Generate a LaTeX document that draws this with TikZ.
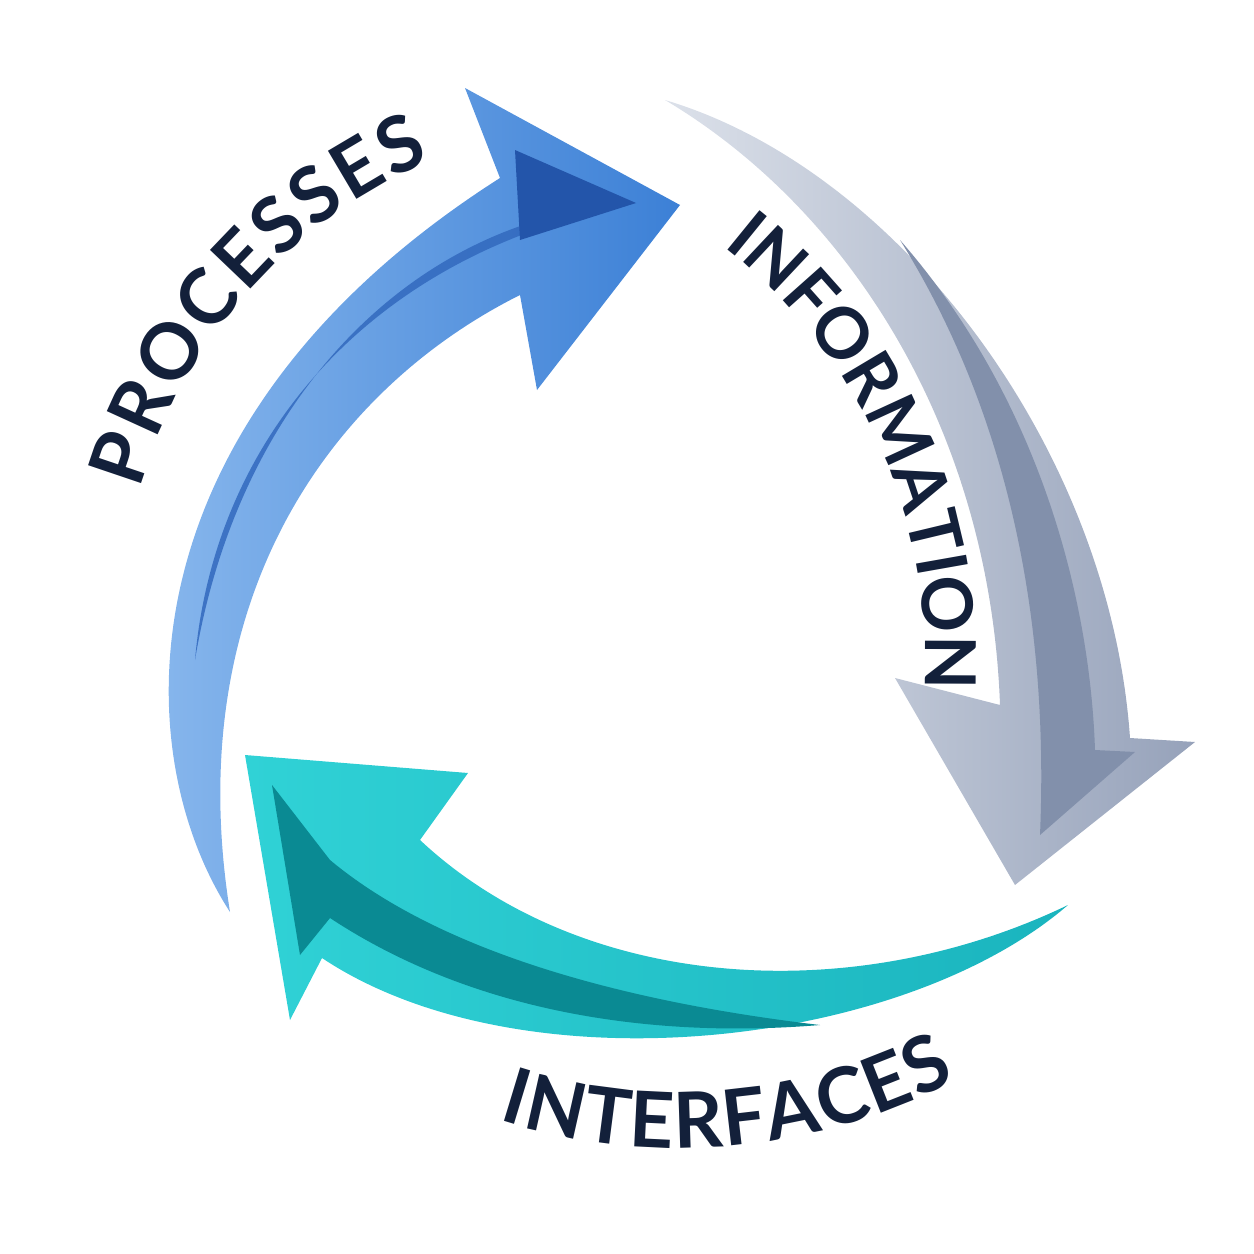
\documentclass[tikz,border=0pt]{standalone}
\usepackage{fontspec}
\newfontfamily\lab{Lato}
\usetikzlibrary{decorations.text}
\definecolor{navy}{HTML}{13203A}
\definecolor{bL}{RGB}{140,186,238}
\definecolor{bR}{RGB}{60,128,214}
\definecolor{bD}{RGB}{50,105,190}
\definecolor{bDD}{RGB}{35,85,170}
\definecolor{gL}{RGB}{220,225,234}
\definecolor{gR}{RGB}{150,162,186}
\definecolor{gD}{RGB}{130,144,171}
\definecolor{tL}{RGB}{48,210,214}
\definecolor{tR}{RGB}{26,180,190}
\definecolor{tD}{RGB}{10,138,147}
\tikzset{lbl/.style={decorate,decoration={text along path,text align=fit to path,text color=navy}}}
\begin{document}
\begin{tikzpicture}[x=0.02cm,y=0.02cm]
\useasboundingbox (0,0) rectangle (1254,-1254);
% blue arrow
\shade[left color=bL,right color=bR]
 (230,-912) .. controls (125,-750) and (120,-420) .. (500,-178) -- (465,-88) -- (680,-205) -- (537,-390) -- (520,-295) .. controls (330,-390) and (180,-600) .. cycle;
\fill[bD,opacity=0.85]
 (195,-660) .. controls (215,-430) and (380,-250) .. (636,-203) .. controls (420,-215) and (240,-390) .. cycle;
\fill[bDD] (515,-150) -- (636,-203) -- (520,-240) -- cycle;
% grey arrow
\shade[left color=gL,right color=gR]
 (665,-100) .. controls (900,-170) and (1110,-450) .. (1130,-738) -- (1195,-742) -- (1015,-885) -- (895,-678) -- (1000,-705) .. controls (990,-430) and (850,-210) .. cycle;
\fill[gD]
 (900,-240) .. controls (1040,-400) and (1090,-600) .. (1095,-750) -- (1135,-752) -- (1040,-835) .. controls (1050,-600) and (1000,-400) .. cycle;
% teal arrow
\shade[left color=tL,right color=tR]
 (1068,-905) .. controls (900,-1050) and (520,-1090) .. (322,-958) -- (290,-1020) -- (245,-755) -- (468,-773) -- (420,-840) .. controls (580,-990) and (850,-1010) .. cycle;
\fill[tD]
 (272,-785) -- (300,-955) -- (330,-918) .. controls (500,-1030) and (700,-1035) .. (820,-1025) .. controls (650,-1005) and (450,-960) .. (330,-860) -- cycle;
% labels
\path[lbl,decoration={text={|\lab\bfseries\fontsize{44}{44}\selectfont|PROCESSES}}]
 (630,-630) ++(164:510) arc[start angle=164,end angle=113,radius=510];
\path[lbl,decoration={text={|\lab\bfseries\fontsize{40}{40}\selectfont|INFORMATION}}]
 (400,-660) ++(52:525) arc[start angle=52,end angle=-1,radius=525];
\path[lbl,decoration={text={|\lab\bfseries\fontsize{44}{44}\selectfont|INTERFACES}}]
 (680,-560) ++(252:588) arc[start angle=252,end angle=298,radius=588];
\end{tikzpicture}
\end{document}
